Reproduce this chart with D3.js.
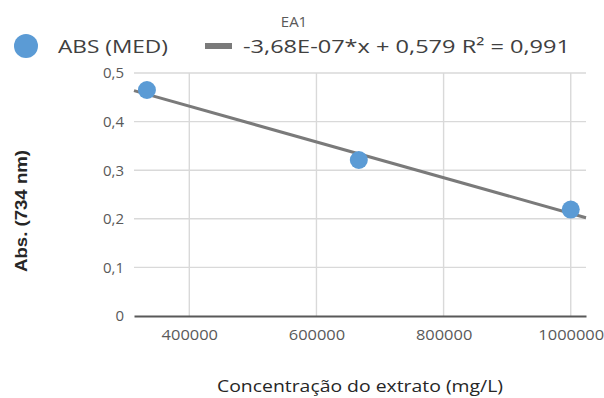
<!DOCTYPE html>
<html>
<head>
<meta charset="utf-8">
<script src="https://cdn.jsdelivr.net/npm/d3@7"></script>
<style>
  body { margin: 0; background: #fff; }
  text { font-family: "Open Sans", "Liberation Sans", Arial, sans-serif; }
</style>
</head>
<body>
<svg id="chart" width="604" height="398"></svg>
<script>
// data
let concentration = [333333, 666667, 1000000];
let absorbance = [0.465, 0.321, 0.219];
let xTicks = [400000, 600000, 800000, 1000000];
let yTicks = [0, 0.1, 0.2, 0.3, 0.4, 0.5];
let slope = -3.68e-7;
let intercept = 0.579;

let svg = d3.select("#chart");
let markerColor = "#5b9bd5";
let trendColor = "#7a7a7a";
let gridColor = "#d9d9d9";
let labelColor = "#595959";

let x = d3.scaleLinear()
  .domain([313000, 1024000])
  .range([134, 586]);
let y = d3.scaleLinear()
  .domain([0, 0.5])
  .range([316, 73]);

let fmt = d => String(d).replace(".", ",");

// gridlines
svg.append("g")
  .selectAll("line")
  .data(yTicks.filter(d => d > 0))
  .enter()
  .append("line")
  .attr("x1", x.range()[0])
  .attr("x2", x.range()[1])
  .attr("y1", d => y(d))
  .attr("y2", d => y(d))
  .style("stroke", gridColor)
  .style("stroke-width", 1.4);
svg.append("g")
  .selectAll("line")
  .data(xTicks)
  .enter()
  .append("line")
  .attr("x1", d => x(d))
  .attr("x2", d => x(d))
  .attr("y1", y(0))
  .attr("y2", y(0.5))
  .style("stroke", gridColor)
  .style("stroke-width", 1.4);

// axes
svg.append("g")
  .attr("transform", "translate(0," + y(0) + ")")
  .call(d3.axisBottom(x).tickValues(xTicks).tickFormat(d => d).tickSize(0).tickPadding(14))
  .call(g => g.select(".domain").style("stroke", "#595959").style("stroke-width", 2))
  .selectAll(".tick text")
  .attr("textLength", d => String(d).length * 9.4)
  .attr("lengthAdjust", "spacingAndGlyphs")
  .style("fill", labelColor)
  .style("font-size", "14px")
  .style("font-family", "Open Sans, sans-serif");

svg.append("g")
  .attr("transform", "translate(" + x.range()[0] + ",0)")
  .call(d3.axisLeft(y).tickValues(yTicks).tickFormat(fmt).tickSize(0).tickPadding(10))
  .call(g => g.select(".domain").remove())
  .selectAll(".tick text")
  .style("fill", labelColor)
  .style("font-size", "15px")
  .style("font-family", "Open Sans, sans-serif");

// trendline
svg.append("line")
  .attr("x1", x(x.domain()[0]))
  .attr("y1", y(slope * x.domain()[0] + intercept))
  .attr("x2", x(x.domain()[1]))
  .attr("y2", y(slope * x.domain()[1] + intercept))
  .style("stroke", trendColor)
  .style("stroke-width", 3);

// points
svg.selectAll(".pt")
  .data(concentration)
  .enter()
  .append("circle")
  .attr("class", "pt")
  .attr("cx", d => x(d))
  .attr("cy", (d, i) => y(absorbance[i]))
  .attr("r", 9)
  .style("fill", markerColor);

// title
svg.append("text")
  .attr("x", 294)
  .attr("y", 27)
  .attr("text-anchor", "middle")
  .text("EA1")
  .style("fill", labelColor)
  .style("font-size", "15px");

// legend
svg.append("circle")
  .attr("cx", 26)
  .attr("cy", 46)
  .attr("r", 12)
  .style("fill", markerColor);
svg.append("text")
  .attr("x", 58)
  .attr("y", 53)
  .attr("textLength", 110)
  .attr("lengthAdjust", "spacingAndGlyphs")
  .text("ABS (MED)")
  .style("fill", "#404040")
  .style("font-size", "19px");
svg.append("line")
  .attr("x1", 205)
  .attr("x2", 232)
  .attr("y1", 46)
  .attr("y2", 46)
  .style("stroke", trendColor)
  .style("stroke-width", 6);
svg.append("text")
  .attr("x", 243)
  .attr("y", 53)
  .attr("textLength", 327)
  .attr("lengthAdjust", "spacingAndGlyphs")
  .text("-3,68E-07*x + 0,579 R² = 0,991")
  .style("fill", "#404040")
  .style("font-size", "19px");

// axis titles
svg.append("text")
  .attr("x", -211)
  .attr("y", 27)
  .attr("text-anchor", "middle")
  .attr("transform", "rotate(-90)")
  .attr("textLength", 122)
  .attr("lengthAdjust", "spacingAndGlyphs")
  .text("Abs. (734 nm)")
  .style("font-family", "Liberation Sans, Arial, sans-serif")
  .style("font-weight", "bold")
  .style("font-size", "16px")
  .style("fill", "#262626");
svg.append("text")
  .attr("x", 360)
  .attr("y", 392)
  .attr("text-anchor", "middle")
  .attr("textLength", 286)
  .attr("lengthAdjust", "spacingAndGlyphs")
  .text("Concentração do extrato (mg/L)")
  .style("fill", "#262626")
  .style("font-size", "17px");
</script>
</body>
</html>
